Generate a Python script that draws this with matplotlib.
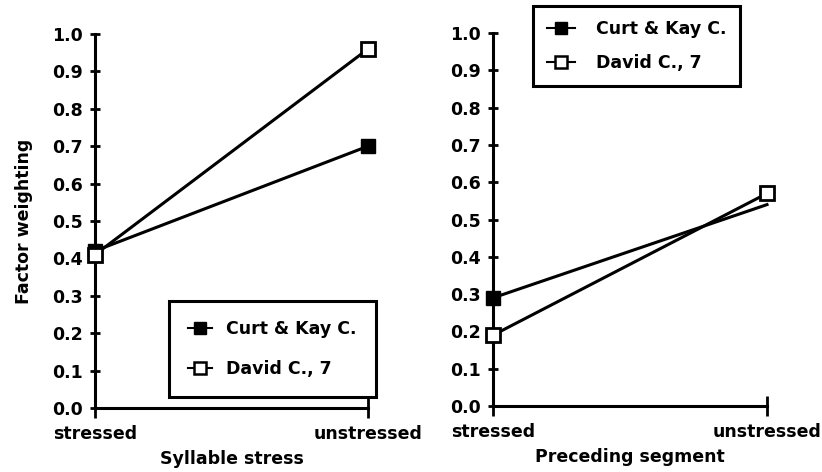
import matplotlib
matplotlib.use("Agg")
import matplotlib.pyplot as plt
from matplotlib.lines import Line2D

categories = ["stressed", "unstressed"]
y_ticks = [0.0, 0.1, 0.2, 0.3, 0.4, 0.5, 0.6, 0.7, 0.8, 0.9, 1.0]
series_names = ["Curt & Kay C.", "David C., 7"]

stress_curt = [0.42, 0.70]
stress_david = [0.41, 0.96]
seg_curt = [0.29, 0.54]
seg_david = [0.19, 0.57]

plt.rcParams['font.family'] = ['DejaVu Sans']
plt.rcParams['font.weight'] = 'bold'
fig = plt.figure(figsize=(8.22, 4.72), dpi=100)
ax1 = fig.add_axes([0.1156, 0.1356, 0.3321, 0.7924])
ax2 = fig.add_axes([0.5998, 0.1398, 0.3333, 0.7902])

lw = 2.2
ms = 10
fs = 12.5

def style(ax, xlabel):
    ax.set_xlim(0, 1)
    ax.set_ylim(0, 1)
    for s in ["top", "right"]:
        ax.spines[s].set_visible(False)
    for s in ["left", "bottom"]:
        ax.spines[s].set_linewidth(2.2)
    ax.set_yticks(y_ticks)
    ax.set_yticklabels([f"{v:.1f}" for v in y_ticks], fontsize=fs, fontweight='bold')
    ax.set_xticks([0, 1])
    ax.set_xticklabels(categories, fontsize=fs, fontweight='bold')
    ax.tick_params(axis='y', direction='inout', length=7, width=2, pad=5)
    ax.tick_params(axis='x', direction='inout', length=14, width=2, pad=5)
    ax.set_xlabel(xlabel, fontsize=fs, fontweight='bold', labelpad=5)

x = [0, 1]
ax1.plot(x, stress_curt, color='black', lw=lw, marker='s', ms=ms, mfc='black', mec='black', clip_on=False, zorder=3)
ax1.plot(x, stress_david, color='black', lw=lw, marker='s', ms=ms, mfc='white', mec='black', mew=2, clip_on=False, zorder=4)
style(ax1, "Syllable stress")
ax1.set_ylabel("Factor weighting", fontsize=fs, fontweight='bold', labelpad=14)

ax2.plot(x, seg_curt, color='black', lw=lw, marker='s', ms=ms, mfc='black', mec='black', markevery=[0], clip_on=False, zorder=3)
ax2.plot(x, seg_david, color='black', lw=lw, marker='s', ms=ms, mfc='white', mec='black', mew=2, clip_on=False, zorder=4)
style(ax2, "Preceding segment")

handles = [
    Line2D([0], [0], color='black', lw=1.5, marker='s', ms=9, mfc='black', mec='black'),
    Line2D([0], [0], color='black', lw=1.5, marker='s', ms=9, mfc='white', mec='black', mew=1.8),
]

leg1 = ax1.legend(handles, series_names, loc='lower right', bbox_to_anchor=(1.06, 0.005),
                  prop={'size': fs, 'weight': 'bold'}, frameon=True, fancybox=False,
                  edgecolor='black', framealpha=1,
                  handlelength=1.4, handletextpad=0.8, labelspacing=1.3, borderpad=1.1)
leg1.get_frame().set_linewidth(2.2)

leg2 = ax2.legend(handles, series_names, loc='upper left', bbox_to_anchor=(0.115, 1.095),
                  prop={'size': fs, 'weight': 'bold'}, frameon=True, fancybox=False,
                  edgecolor='black', framealpha=1,
                  handlelength=1.6, handletextpad=1.2, labelspacing=0.9, borderpad=0.8)
leg2.get_frame().set_linewidth(2.2)

fig.savefig("out.png", dpi=100)
